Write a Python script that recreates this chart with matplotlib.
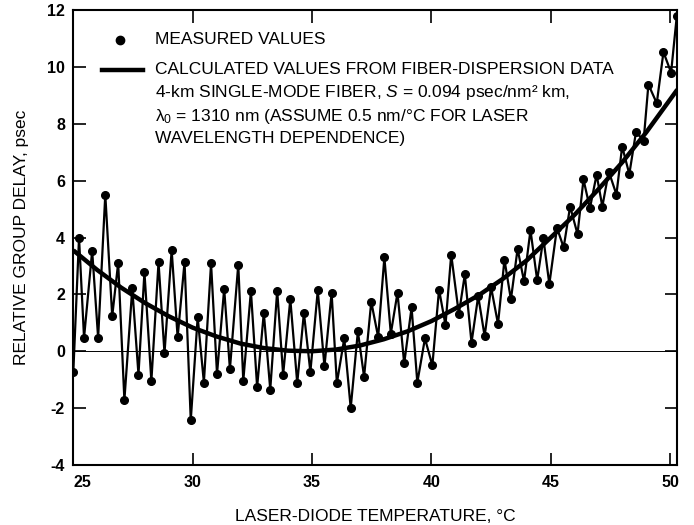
import matplotlib
matplotlib.use("Agg")
import matplotlib.pyplot as plt
from matplotlib.lines import Line2D

plt.rcParams['font.family'] = ['Liberation Sans', 'DejaVu Sans']
plt.rcParams['mathtext.fontset'] = 'custom'
plt.rcParams['mathtext.rm'] = 'Liberation Sans'
plt.rcParams['mathtext.it'] = 'Liberation Sans:italic'

# measured points (temperature in deg C, relative delay in psec)
temp = [25.0, 25.24, 25.45, 25.79, 26.04, 26.34, 26.63, 26.88, 27.14, 27.47,
        27.73, 27.98, 28.27, 28.57, 28.82, 29.12, 29.37, 29.66, 29.92, 30.21,
        30.47, 30.77, 31.02, 31.32, 31.56,
        31.91, 32.12, 32.44, 32.70, 32.98, 33.25, 33.54, 33.79, 34.09, 34.38,
        34.66, 34.93, 35.24, 35.52, 35.82, 36.04, 36.35, 36.62, 36.92, 37.18,
        37.48, 37.77, 38.03, 38.30,
        38.58, 38.86, 39.17, 39.41, 39.73, 40.04, 40.32, 40.59, 40.83, 41.15,
        41.40, 41.68, 41.96, 42.23, 42.50, 42.79, 43.06, 43.33, 43.61, 43.88,
        44.15, 44.43, 44.69, 44.94,
        45.26, 45.54, 45.81, 46.12, 46.37, 46.64, 46.92, 47.16, 47.43, 47.75,
        47.99, 48.29, 48.57, 48.89, 49.09, 49.44, 49.72, 50.04, 50.28]
delay = [-0.74, 3.99, 0.47, 3.53, 0.47, 5.51, 1.23, 3.11, -1.72, 2.21,
         -0.82, 2.78, -1.05, 3.13, -0.07, 3.56, 0.49, 3.14, -2.43, 1.2,
         -1.1, 3.09, -0.8, 2.2, -0.63,
         3.05, -1.04, 2.12, -1.26, 1.35, -1.35, 2.13, -0.82, 1.83, -1.12,
         1.35, -0.73, 2.14, -0.53, 2.05, -1.12, 0.45, -2.0, 0.7, -0.9,
         1.74, 0.5, 3.3, 0.62,
         2.06, -0.43, 1.54, -1.1, 0.45, -0.5, 2.17, 0.92, 3.4, 1.31,
         2.7, 0.3, 1.94, 0.53, 2.25, 0.96, 3.22, 1.82, 3.6, 2.46,
         4.26, 2.5, 3.97, 2.36,
         4.34, 3.65, 5.09, 4.12, 6.04, 5.03, 6.21, 5.09, 6.32, 5.51,
         7.2, 6.23, 7.71, 7.41, 9.38, 8.72, 10.52, 9.8, 11.8]

# calculated curve
calc_temp = [25.0, 26.0, 27.0, 28.0, 29.0, 30.0, 31.0, 32.0, 33.0, 34.0, 35.0,
             36.0, 37.0, 38.0, 39.0, 40.0, 41.0, 42.0, 43.0, 44.0, 45.0, 46.0,
             47.0, 48.0, 49.0, 50.3]
calc_delay = [3.55, 2.86, 2.24, 1.7, 1.23, 0.83, 0.52, 0.27, 0.11, 0.02, 0.0,
              0.06, 0.2, 0.42, 0.7, 1.06, 1.5, 1.98, 2.55, 3.2, 4.0, 4.8,
              5.7, 6.65, 7.7, 9.2]

W, H = 694, 525
fig = plt.figure(figsize=(W / 100, H / 100), dpi=100)
ax = fig.add_axes([73.3 / W, 1 - 465 / H, (677.3 - 73.3) / W, (465 - 10) / H])

ax.axhline(0, color='black', lw=0.7, zorder=1)
ax.plot(calc_temp, calc_delay, color='black', lw=3.2, solid_capstyle='butt', zorder=2)
ax.plot(temp, delay, color='black', lw=1.6, marker='o', ms=5.5, zorder=3)

ax.set_xlim(25, 50.3)
ax.set_ylim(-4, 12)
ax.set_xticks([25, 30, 35, 40, 45, 50])
ax.set_yticks([-4, -2, 0, 2, 4, 6, 8, 10, 12])
ax.set_yticklabels(['-4', '-2', '0', '2', '4', '6', '8', '10', '12'])
ax.tick_params(direction='in', length=9, width=1.2, top=True, right=True,
               labelsize=11.5, pad=6)
ax.tick_params(axis='x', pad=7)
for lab in ax.get_xticklabels() + ax.get_yticklabels():
    lab.set_fontweight('bold')
ax.get_xticklabels()[0].set_horizontalalignment('left')
for s in ax.spines.values():
    s.set_linewidth(1.5)

ax.set_xlabel('LASER-DIODE TEMPERATURE, °C', fontsize=12.5, labelpad=14)
ax.set_ylabel('RELATIVE GROUP DELAY, psec', fontsize=12.5, labelpad=13)

# legend drawn by hand
def fx(px):
    return px / W

def fy(py):
    return 1 - py / H

fig.add_artist(Line2D([fx(120)], [fy(40)], marker='o', ms=6, color='black'))
fig.add_artist(Line2D([fx(102), fx(143)], [fy(70), fy(70)], lw=3.2, color='black'))
txt = dict(fontsize=12.5, va='center', ha='left')
fig.text(fx(155), fy(40), 'MEASURED VALUES', **txt)
fig.text(fx(155), fy(70), 'CALCULATED VALUES FROM FIBER-DISPERSION DATA', **txt)
fig.text(fx(155), fy(93), r'4-km SINGLE-MODE FIBER, $S$ = 0.094 psec/nm² km,', **txt)
fig.text(fx(155), fy(116), r'λ$_0$ = 1310 nm (ASSUME 0.5 nm/°C FOR LASER', **txt)
fig.text(fx(155), fy(139), 'WAVELENGTH DEPENDENCE)', **txt)

fig.savefig('out.png', dpi=100)
